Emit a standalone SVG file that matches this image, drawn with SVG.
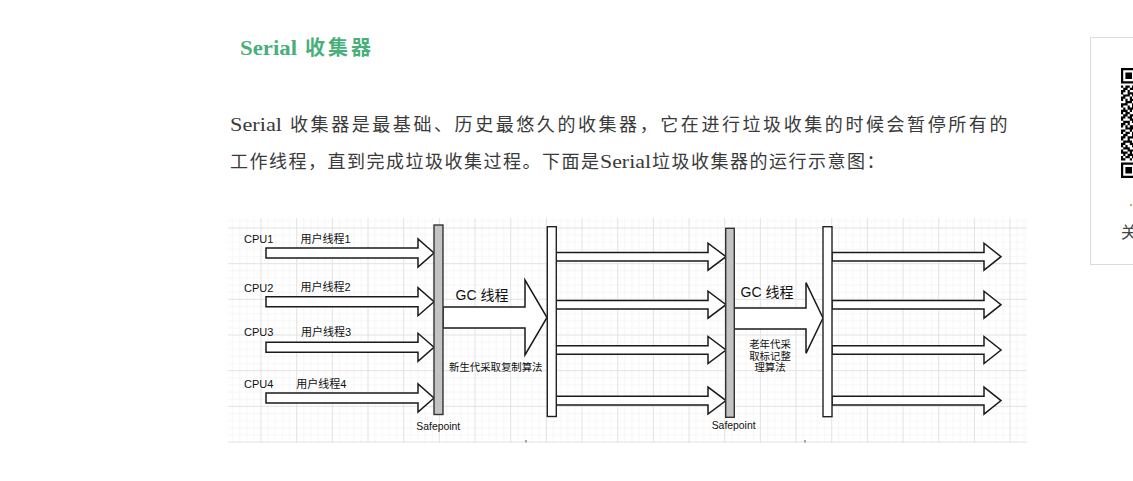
<svg xmlns="http://www.w3.org/2000/svg" width="1133" height="481" viewBox="0 0 1133 481">
  <defs>
    <style>
      .page { font-family: "Liberation Serif", "Noto Sans CJK SC", serif; fill: #3a3a3a; font-size: 18px; }
      .cjk { letter-spacing: 2.57px; }
      .cjk2 { letter-spacing: 1.5px; }
      .title { font-family: "Liberation Serif", "Noto Sans CJK SC", serif; fill: #47b07a; font-size: 20px; font-weight: bold; }
      .lbl { font-family: "Liberation Sans", "Noto Sans CJK SC", sans-serif; fill: #111; font-size: 11px; }
      .gc { font-family: "Liberation Sans", "Noto Sans CJK SC", sans-serif; fill: #111; font-size: 14px; }
      .note { font-family: "Liberation Sans", "Noto Sans CJK SC", sans-serif; fill: #111; font-size: 10.4px; }
      .arrow { fill: #fff; stroke: #1a1a1a; stroke-width: 1.5; stroke-linejoin: miter; }
      .bar { fill: #fff; stroke: #222; stroke-width: 1.4; }
      .safe { fill: #c3c3c3; stroke: #333; stroke-width: 1.4; }
    </style>
    <!-- light drawing grid: major cells with faint sub-lines -->
    <pattern id="grid" patternUnits="userSpaceOnUse" x="260.5" y="227.5" width="35.67" height="35.67">
      <g fill="#f6f6f6">
        <rect x="7.13" y="0" width="1" height="35.67"/>
        <rect x="14.27" y="0" width="1" height="35.67"/>
        <rect x="21.4" y="0" width="1" height="35.67"/>
        <rect x="28.54" y="0" width="1" height="35.67"/>
        <rect x="0" y="7.13" width="35.67" height="1"/>
        <rect x="0" y="14.27" width="35.67" height="1"/>
        <rect x="0" y="21.4" width="35.67" height="1"/>
        <rect x="0" y="28.54" width="35.67" height="1"/>
      </g>
      <g fill="#e2e2e2">
        <rect x="0" y="0" width="1" height="35.67"/>
        <rect x="0" y="0" width="35.67" height="1"/>
      </g>
    </pattern>
  </defs>

  <rect width="1133" height="481" fill="#fff"/>

  <!-- article heading and paragraph -->
  <text class="title" x="240" y="55"><tspan textLength="57" lengthAdjust="spacingAndGlyphs">Serial</tspan><tspan x="305" textLength="66" lengthAdjust="spacing">收集器</tspan></text>
  <text class="page" y="131"><tspan x="230" textLength="52" lengthAdjust="spacingAndGlyphs">Serial</tspan><tspan class="cjk" x="290">收集器是最基础、历史最悠久的收集器，它在进行垃圾收集的时候会暂停所有的</tspan></text>
  <text class="page" y="168"><tspan class="cjk2" x="230">工作线程，直到完成垃圾收集过程。下面是</tspan><tspan x="600" textLength="51" lengthAdjust="spacingAndGlyphs">Serial</tspan><tspan class="cjk2" x="652">垃圾收集器的运行示意图：</tspan></text>

  <!-- side panel with QR code -->
  <g id="side-panel">
    <rect x="1090.5" y="37.5" width="60" height="227" fill="#fff" stroke="#dcdcdc" stroke-width="1"/>
    <g transform="translate(1121,68) scale(2.2)" fill="#000">
      <path d="M0 0h7v7h-7z M1 1v5h5v-5z M2 2h3v3h-3z" fill-rule="evenodd"/>
      <path d="M0 43h7v7h-7z M1 44v5h5v-5z M2 45h3v3h-3z" fill-rule="evenodd"/>
      <path d="M0 8h1v1h-1z M2 8h2v1h-2z M5 8h1v1h-1z
               M1 9h2v1h-2z M4 9h2v1h-2z
               M0 10h2v1h-2z M3 10h1v1h-1z
               M0 11h1v1h-1z M3 11h3v1h-3z
               M1 12h3v1h-3z M5 12h1v1h-1z
               M0 13h2v1h-2z M4 13h1v1h-1z
               M0 14h1v1h-1z M2 14h1v1h-1z M4 14h2v1h-2z
               M2 15h3v1h-3z
               M0 16h3v1h-3z M5 16h1v1h-1z
               M0 17h1v1h-1z M3 17h1v1h-1z M5 17h1v1h-1z
               M1 18h1v1h-1z M3 18h3v1h-3z
               M0 19h3v1h-3z M4 19h1v1h-1z
               M0 20h1v1h-1z M2 20h2v1h-2z
               M1 21h2v1h-2z M4 21h2v1h-2z
               M0 22h2v1h-2z M3 22h2v1h-2z
               M0 23h1v1h-1z M4 23h2v1h-2z
               M1 24h3v1h-3z M5 24h1v1h-1z
               M0 25h2v1h-2z M3 25h1v1h-1z
               M0 26h1v1h-1z M2 26h1v1h-1z M4 26h2v1h-2z
               M2 27h4v1h-4z
               M0 28h2v1h-2z M4 28h1v1h-1z
               M0 29h1v1h-1z M2 29h2v1h-2z M5 29h1v1h-1z
               M1 30h2v1h-2z M5 30h1v1h-1z
               M0 31h2v1h-2z M3 31h3v1h-3z
               M0 32h1v1h-1z M3 32h1v1h-1z
               M1 33h4v1h-4z
               M0 34h2v1h-2z M4 34h2v1h-2z
               M0 35h1v1h-1z M2 35h1v1h-1z M5 35h1v1h-1z
               M1 36h3v1h-3z
               M0 37h1v1h-1z M3 37h3v1h-3z
               M0 38h3v1h-3z M4 38h1v1h-1z
               M1 39h1v1h-1z M3 39h3v1h-3z
               M0 40h1v1h-1z M2 40h2v1h-2z M5 40h1v1h-1z
               M0 41h2v1h-2z M4 41h1v1h-1z"/>
    </g>
    <rect x="1130" y="204" width="2" height="2" fill="#e0a060"/>
    <text x="1121" y="238" font-family="'Noto Sans CJK SC', sans-serif" font-size="16" fill="#444">关</text>
  </g>

  <!-- diagram canvas -->
  <rect x="228" y="218" width="799" height="225" fill="url(#grid)"/>

  <g id="connectors">
    <!-- user threads running into the first safepoint -->
    <polygon class="arrow" points="266,248 418,248 418,239 434,253 418,267 418,258 266,258"/>
    <polygon class="arrow" points="266,296.7 418,296.7 418,287.7 434,301.7 418,315.7 418,306.7 266,306.7"/>
    <polygon class="arrow" points="266,342.3 418,342.3 418,333.3 434,347.3 418,361.3 418,352.3 266,352.3"/>
    <polygon class="arrow" points="266,393 418,393 418,384 434,398 418,412 418,403 266,403"/>
    <!-- young generation GC thread -->
    <polygon class="arrow" points="443,307 525,307 525,280 547,317.5 525,355 525,328 443,328"/>
    <!-- user threads between the two pauses -->
    <polygon class="arrow" points="556,252.4 708,252.4 708,243.2 726,256.7 708,270.2 708,261 556,261"/>
    <polygon class="arrow" points="556,300.4 708,300.4 708,291.2 726,304.7 708,318.2 708,309 556,309"/>
    <polygon class="arrow" points="556,345.7 708,345.7 708,336.5 726,350 708,363.5 708,354.3 556,354.3"/>
    <polygon class="arrow" points="556,396.3 708,396.3 708,387.1 726,400.6 708,414.1 708,405 556,405"/>
    <!-- old generation GC thread -->
    <polygon class="arrow" points="734,308 806,308 806,282.7 823,318 806,353.3 806,329 734,329"/>
    <!-- user threads after the second pause -->
    <polygon class="arrow" points="832,252.4 984,252.4 984,243.2 1001,256.7 984,270.2 984,261 832,261"/>
    <polygon class="arrow" points="832,300.4 984,300.4 984,291.2 1001,304.7 984,318.2 984,309 832,309"/>
    <polygon class="arrow" points="832,345.7 984,345.7 984,336.5 1001,350 984,363.5 984,354.3 832,354.3"/>
    <polygon class="arrow" points="832,396.3 984,396.3 984,387.1 1001,400.6 984,414.1 984,405 832,405"/>
  </g>

  <g id="cpu-labels">
    <text class="lbl" x="244" y="243">CPU1</text>
    <text class="lbl" x="244" y="292">CPU2</text>
    <text class="lbl" x="244" y="336">CPU3</text>
    <text class="lbl" x="244" y="388">CPU4</text>
    <text class="lbl" x="300.5" y="243">用户线程1</text>
    <text class="lbl" x="300.5" y="291">用户线程2</text>
    <text class="lbl" x="301" y="336">用户线程3</text>
    <text class="lbl" x="296.3" y="388">用户线程4</text>
  </g>

  <g id="safepoint-1">
    <rect class="safe" x="434" y="225" width="9" height="189.5"/>
    <text class="note" x="416.3" y="430">Safepoint</text>
  </g>

  <g id="gc-young">
    <text class="gc" x="455.5" y="299.5">GC 线程</text>
    <text class="note" x="449" y="370.5">新生代采取复制算法</text>
  </g>

  <g id="resume-1">
    <rect class="bar" x="547.3" y="226.7" width="9" height="189.8"/>
  </g>

  <g id="safepoint-2">
    <rect class="safe" x="725.7" y="228.3" width="8.6" height="189"/>
    <text class="note" x="711.7" y="429">Safepoint</text>
  </g>

  <g id="gc-old">
    <text class="gc" x="740.5" y="297">GC 线程</text>
    <text class="note" text-anchor="middle" x="770" y="348">老年代采</text>
    <text class="note" text-anchor="middle" x="770" y="359.5">取标记整</text>
    <text class="note" text-anchor="middle" x="770" y="371">理算法</text>
  </g>

  <g id="resume-2">
    <rect class="bar" x="823" y="226.7" width="9" height="190"/>
  </g>

  <!-- small ticks on the lower edge -->
  <rect x="525.5" y="440" width="1" height="2.5" fill="#555"/>
  <rect x="804.5" y="440" width="1" height="2.5" fill="#555"/>
</svg>
